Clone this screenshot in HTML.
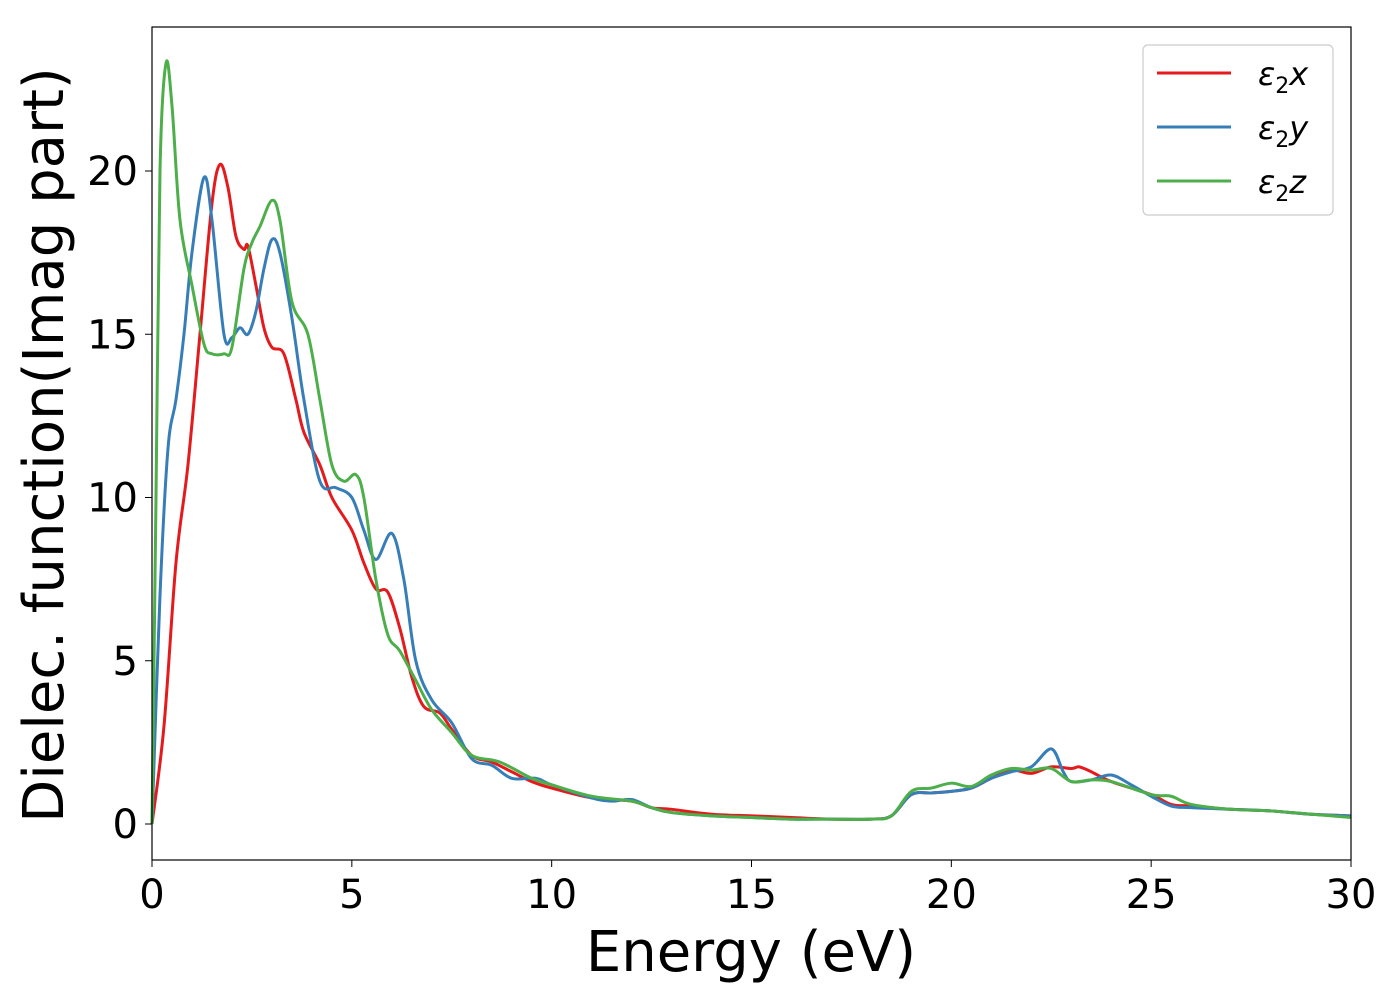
<!DOCTYPE html>
<html><head><meta charset="utf-8"><style>
body{margin:0;background:#fff}
text{font-family:"DejaVu Sans","Liberation Sans",sans-serif}
</style></head><body>
<svg id="chart" width="1400" height="1000" xmlns="http://www.w3.org/2000/svg">
<rect width="1400" height="1000" fill="#fff"/>
<g id="plot"></g>
<rect x="152" y="27" width="1199" height="833" fill="none" stroke="#000" stroke-width="1.2"/>
<g id="ticks"></g>
<text x="751" y="971" font-size="56" text-anchor="middle">Energy (eV)</text>
<text transform="translate(63,445) rotate(-90)" font-size="56" text-anchor="middle">Dielec. function(Imag part)</text>
<g>
<rect x="1143" y="45" width="190" height="170" rx="5" fill="#fff" stroke="#ccc" stroke-width="1.2"/>
<line x1="1157" y1="73" x2="1231" y2="73" stroke="#e41a1c" stroke-width="3"/>
<text x="1258" y="85" font-size="32" font-style="italic">ε<tspan font-style="normal" font-size="22" dy="8">2</tspan><tspan dy="-8">x</tspan></text>
<line x1="1157" y1="127" x2="1231" y2="127" stroke="#377eb8" stroke-width="3"/>
<text x="1258" y="139" font-size="32" font-style="italic">ε<tspan font-style="normal" font-size="22" dy="8">2</tspan><tspan dy="-8">y</tspan></text>
<line x1="1157" y1="181" x2="1231" y2="181" stroke="#4daf4a" stroke-width="3"/>
<text x="1258" y="193" font-size="32" font-style="italic">ε<tspan font-style="normal" font-size="22" dy="8">2</tspan><tspan dy="-8">z</tspan></text>
</g>
</svg>
<script>
const xTicks=[0,5,10,15,20,25,30];
const yTicks=[0,5,10,15,20];
const ex=[0,0.3,0.6,0.9,1.2,1.5,1.7,1.9,2.1,2.3,2.4,2.6,2.8,3.0,3.3,3.6,3.8,4.2,4.5,5.0,5.3,5.6,5.9,6.2,6.5,6.8,7.2,7.5,8.0,8.5,9.0,9.5,10,11,12,12.5,13,14,15,16,17,18,18.5,19,19.5,20,20.5,21,21.5,22,22.5,23,23.2,23.5,24,25,25.5,26,27,28,29,30];
const vx=[0,3,8,11,15,19,20.2,19.5,18,17.6,17.7,16.5,15.2,14.6,14.4,13,12,11,10,9,8,7.2,7.1,6,4.5,3.6,3.4,2.9,2.1,1.9,1.6,1.3,1.1,0.8,0.7,0.5,0.45,0.3,0.25,0.2,0.15,0.15,0.25,0.9,0.95,1.0,1.1,1.4,1.65,1.55,1.75,1.7,1.75,1.6,1.3,0.9,0.6,0.55,0.45,0.4,0.3,0.25];
const ey=[0,0.2,0.4,0.6,0.8,1.0,1.3,1.5,1.8,2.0,2.2,2.4,2.6,2.8,3.0,3.2,3.5,3.8,4.2,4.6,5.0,5.3,5.6,6.0,6.3,6.6,7.0,7.5,8.0,8.5,9.0,9.6,10,11,11.5,12,12.5,13,14,15,16,17,18,18.5,19,19.5,20,20.5,21,21.5,22,22.5,22.8,23,23.5,24,24.5,25,25.5,26,27,28,29,30];
const vy=[0,7,11.5,13,15,17.5,19.8,18.5,15,14.9,15.2,15.0,15.7,17,17.9,17.5,15.5,13,10.5,10.3,10.0,9.0,8.1,8.9,7.5,5,3.8,3.1,2.0,1.8,1.4,1.4,1.2,0.8,0.7,0.75,0.5,0.35,0.25,0.2,0.15,0.15,0.15,0.25,0.9,0.95,1.0,1.1,1.4,1.6,1.75,2.3,1.6,1.3,1.35,1.5,1.2,0.85,0.55,0.5,0.45,0.4,0.3,0.25];
const ez=[0,0.1,0.2,0.35,0.5,0.7,1.0,1.3,1.5,1.8,2.0,2.3,2.5,2.7,3.0,3.2,3.5,3.9,4.2,4.5,4.8,5.1,5.3,5.6,5.9,6.2,6.6,7.0,7.5,8.0,8.7,9.5,10,11,12,12.5,13,14,15,16,17,18,18.5,19,19.5,20,20.5,21,21.5,22,22.5,23,23.5,24,25,25.5,26,27,28,29,30];
const vz=[0,10,20,23.3,22,18.5,16.5,14.7,14.4,14.4,14.6,17,17.8,18.3,19.1,18.5,16,15,13,11,10.5,10.7,10.0,7.5,5.8,5.3,4.4,3.5,2.8,2.1,1.9,1.4,1.2,0.85,0.7,0.5,0.35,0.25,0.2,0.15,0.15,0.15,0.25,1.0,1.1,1.25,1.15,1.5,1.7,1.65,1.7,1.3,1.35,1.3,0.9,0.85,0.6,0.45,0.4,0.3,0.2];
const NS='http://www.w3.org/2000/svg';
const X=v=>152+v*(1199/30);
const Y=v=>824-v*(653/20);
function path(xs,ys){
  const p=xs.map((x,i)=>[X(x),Y(ys[i])]);
  let d='M'+p[0][0]+','+p[0][1];
  for(let i=0;i<p.length-1;i++){
    const p0=p[Math.max(0,i-1)],p1=p[i],p2=p[i+1],p3=p[Math.min(p.length-1,i+2)];
    const c1=[p1[0]+(p2[0]-p0[0])/6,p1[1]+(p2[1]-p0[1])/6];
    const c2=[p2[0]-(p3[0]-p1[0])/6,p2[1]-(p3[1]-p1[1])/6];
    d+=' C'+c1+' '+c2+' '+p2;
  }
  return d;
}
const plot=document.getElementById('plot');
[[ex,vx,'#e41a1c','line-eps2x'],[ey,vy,'#377eb8','line-eps2y'],[ez,vz,'#4daf4a','line-eps2z']].forEach(s=>{
  const el=document.createElementNS(NS,'path');
  el.setAttribute('d',path(s[0],s[1]));
  el.setAttribute('fill','none');el.setAttribute('stroke',s[2]);el.setAttribute('stroke-width','3');
  
  
  plot.appendChild(el);
});
const tg=document.getElementById('ticks');
xTicks.forEach(t=>{
  const l=document.createElementNS(NS,'line');
  l.setAttribute('x1',X(t));l.setAttribute('x2',X(t));l.setAttribute('y1',860);l.setAttribute('y2',867);l.setAttribute('stroke','#000');
  
  
  tg.appendChild(l);
  const tx=document.createElementNS(NS,'text');
  tx.setAttribute('x',X(t));tx.setAttribute('y',908);tx.setAttribute('font-size','40');tx.setAttribute('text-anchor','middle');
  tx.textContent=t;
  
  
  tg.appendChild(tx);
});
yTicks.forEach(t=>{
  const l=document.createElementNS(NS,'line');
  l.setAttribute('x1',145);l.setAttribute('x2',152);l.setAttribute('y1',Y(t));l.setAttribute('y2',Y(t));l.setAttribute('stroke','#000');
  
  
  tg.appendChild(l);
  const tx=document.createElementNS(NS,'text');
  tx.setAttribute('x',138);tx.setAttribute('y',Y(t)+14);tx.setAttribute('font-size','40');tx.setAttribute('text-anchor','end');
  tx.textContent=t;
  
  
  tg.appendChild(tx);
});
</script>
</body></html>
